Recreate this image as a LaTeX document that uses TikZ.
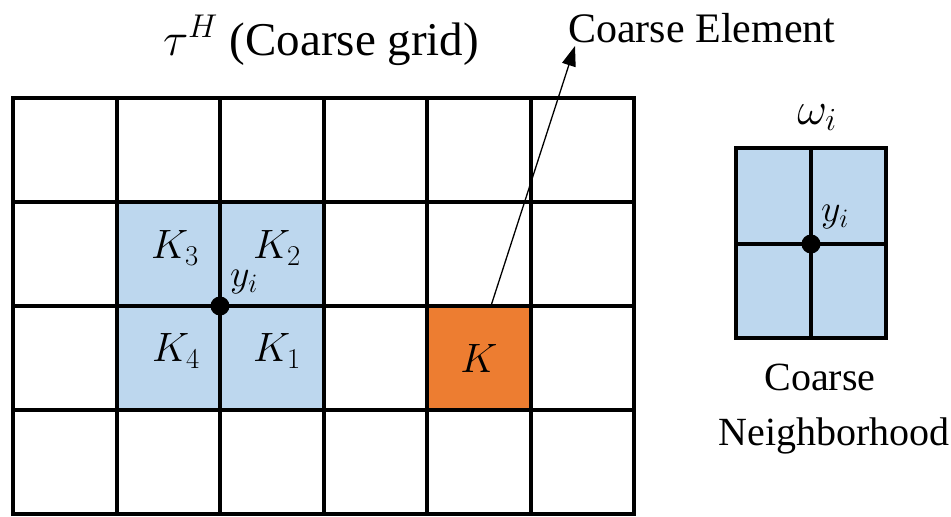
\RequirePackage{fix-cm}
\documentclass[tikz,border=0pt]{standalone}
\usepackage{fontspec}
\setmainfont{Liberation Serif}
\usetikzlibrary{arrows.meta,calc}
\definecolor{cblue}{HTML}{BDD7EE}
\definecolor{corange}{HTML}{ED7D31}
\begin{document}
\begin{tikzpicture}[x=1pt,y=-1pt,
  gridline/.style={line width=4pt, line cap=rect},
  txt/.style={font=\fontsize{42}{50}\selectfont, inner sep=0pt},
  mlbl/.style={font=\fontsize{41}{49}\selectfont, inner sep=0pt},
  sublbl/.style={font=\fontsize{38}{45}\selectfont, inner sep=0pt},
  dot/.style={circle, fill=black, minimum size=19pt, inner sep=0pt}]
\useasboundingbox (0,0) rectangle (951,517);
% shaded cells
\fill[cblue] (116.5,202) rectangle (323.5,410);
\node[fill=corange, minimum width=103.5pt, minimum height=104pt, inner sep=0pt, anchor=north west] (K) at (427,306) {};
% grid
\foreach \x in {13,116.5,220,323.5,427,530.5,634}
  \draw[gridline] (\x,98) -- (\x,514);
\foreach \y in {98,202,306,410,514}
  \draw[gridline] (13,\y) -- (634,\y);
% labels in grid
\node[mlbl] (k3) at (175,248) {$K_3$};
\node[mlbl] (k2) at (277,248) {$K_2$};
\node[mlbl] (k4) at (176,351) {$K_4$};
\node[mlbl] (k1) at (277,351) {$K_1$};
\node[mlbl] (kl) at (K.center) {$K$};
\node[dot] (yi) at (220,306) {};
\node[sublbl, anchor=south west] (yil) at (230,294) {$y_i$};
% title
\node[txt, font=\fontsize{47}{56}\selectfont, anchor=base] (title) at (321,55) {$\tau^H$ (Coarse grid)};
% arrow
\node[txt, anchor=base west] (ce) at (568,42) {Coarse Element};
\coordinate (tip) at (575,46);
\draw[line width=1.3pt, -{Triangle[length=20pt,width=14pt]}] ($(K.north)+(12,0)$) -- (tip);
% neighborhood
\fill[cblue] (736,148) rectangle (886,338);
\draw[gridline] (736,148) rectangle (886,338);
\draw[gridline] (811,148) -- (811,338);
\draw[gridline] (736,244) -- (886,244);
\node[dot] (yr) at (811,244) {};
\node[sublbl, anchor=south west] (yrl) at (821,229) {$y_i$};
\node[mlbl, font=\fontsize{46}{55}\selectfont, anchor=base] (om) at (817,124) {$\omega_i$};
\node[txt, font=\fontsize{40}{48}\selectfont, anchor=base] (cn1) at (820,390) {Coarse};
\node[txt, font=\fontsize{40}{48}\selectfont, anchor=base] (cn2) at (834,445) {Neighborhood};
\end{tikzpicture}
\end{document}
